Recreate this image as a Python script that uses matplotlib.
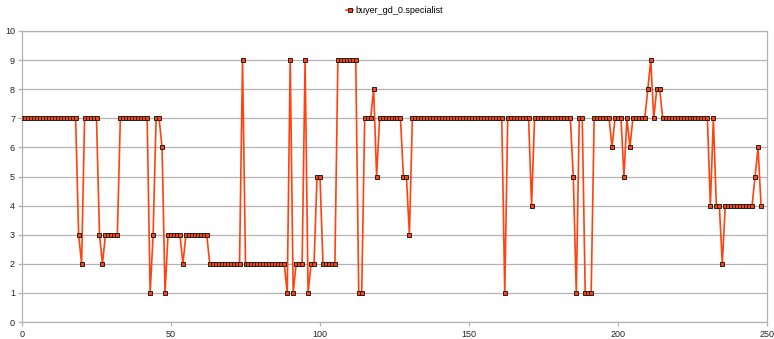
import matplotlib
matplotlib.use("Agg")
import matplotlib.pyplot as plt

series_name = "buyer_gd_0.specialist"
values = [
    7, 7, 7, 7, 7, 7, 7, 7, 7, 7, 7, 7, 7, 7, 7, 7, 7, 7, 7,   # 0-18
    3, 2, 7, 7, 7, 7, 7, 3, 2, 3, 3, 3, 3, 3,                  # 19-32
    7, 7, 7, 7, 7, 7, 7, 7, 7, 7,                              # 33-42
    1, 3, 7, 7, 6, 1, 3, 3, 3, 3, 3, 2,                        # 43-54
    3, 3, 3, 3, 3, 3, 3, 3,                                    # 55-62
    2, 2, 2, 2, 2, 2, 2, 2, 2, 2, 2,                           # 63-73
    9, 2, 2, 2, 2, 2, 2, 2, 2, 2, 2, 2, 2, 2, 2,               # 74-88
    1, 9, 1, 2, 2, 2, 9, 1, 2, 2, 5, 5,                        # 89-100
    2, 2, 2, 2, 2, 9, 9, 9, 9, 9, 9, 9,                        # 101-112
    1, 1, 7, 7, 7, 8, 5,                                       # 113-119
    7, 7, 7, 7, 7, 7, 7, 7, 5, 5, 3,                           # 120-130
    7, 7, 7, 7, 7, 7, 7, 7, 7, 7, 7, 7, 7, 7, 7, 7,            # 131-146
    7, 7, 7, 7, 7, 7, 7, 7, 7, 7, 7, 7, 7, 7, 7,               # 147-161
    1, 7, 7, 7, 7, 7, 7, 7, 7, 4,                              # 162-171
    7, 7, 7, 7, 7, 7, 7, 7, 7, 7, 7, 7, 7,                     # 172-184
    5, 1, 7, 7, 1, 1, 1, 7, 7, 7, 7, 7, 7, 6,                  # 185-198
    7, 7, 7, 5, 7, 6, 7, 7, 7, 7, 7, 8, 9, 7, 8, 8,            # 199-214
    7, 7, 7, 7, 7, 7, 7, 7, 7, 7, 7, 7, 7, 7, 7, 7,            # 215-230
    4, 7, 4, 4, 2, 4, 4, 4, 4, 4, 4, 4, 4, 4, 4,               # 231-245
    5, 6, 4,                                                   # 246-248
]
x_index = list(range(len(values)))
x_ticks = [0, 50, 100, 150, 200, 250]
y_ticks = list(range(0, 11))

W, H = 774, 339
fig = plt.figure(figsize=(W / 100, H / 100), dpi=100)
ax = fig.add_axes([22 / W, (H - 322) / H, (767 - 22) / W, (322 - 31) / H])

grid_c = "#b3b3b3"
line_c = "#ff420e"

ax.plot(x_index, values, color=line_c, lw=1.2, marker="s", markersize=3.2,
        markerfacecolor=line_c, markeredgecolor="#222222", markeredgewidth=0.7,
        label=series_name, zorder=3)

ax.set_xlim(0, 250)
ax.set_ylim(0, 10)
ax.set_xticks(x_ticks)
ax.set_yticks(y_ticks)
ax.yaxis.grid(True, color=grid_c, lw=0.9)
ax.set_axisbelow(True)
for s in ["left", "bottom", "right", "top"]:
    ax.spines[s].set_color(grid_c)
    ax.spines[s].set_linewidth(0.9)
ax.tick_params(axis="both", colors=grid_c, labelcolor="#222222", labelsize=6.5,
               length=3, width=0.9, direction="out", pad=2)
ax.tick_params(axis="x", pad=3)
for lab in ax.get_xticklabels() + ax.get_yticklabels():
    lab.set_fontfamily("Liberation Sans")

fig.legend(loc="upper center", bbox_to_anchor=(0.51, 1.0), frameon=False,
           prop={"family": "Liberation Sans", "size": 6.5}, handlelength=0.8,
           handletextpad=0.3, borderaxespad=0.3)

fig.savefig("out.png", dpi=100)
